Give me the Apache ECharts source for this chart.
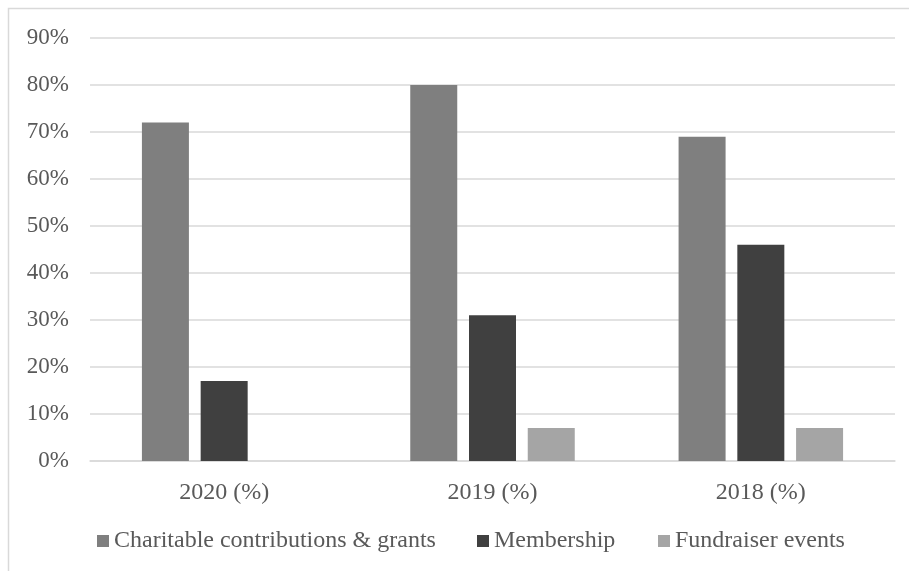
<!DOCTYPE html>
<html><head><meta charset="utf-8">
<script src="https://cdn.jsdelivr.net/npm/echarts@6/dist/echarts.min.js"></script>
<style>html,body{margin:0;padding:0;background:#fff}#c{width:909px;height:571px}</style>
</head><body><div id="c"></div>
<script>
const categories = ['2020 (%)', '2019 (%)', '2018 (%)'];
const charitable = [72, 80, 69];
const membership = [17, 31, 46];
const fundraiser = [0, 7, 7];
const seriesNames = ['Charitable contributions & grants', 'Membership', 'Fundraiser events'];
const colors = ['#7f7f7f', '#404040', '#a5a5a5'];

const font = 'Liberation Serif, Times New Roman, serif';
const chart = echarts.init(document.getElementById('c'));
const mk = (name, data, color) => ({
  name, type: 'bar', data, barWidth: 47, barGap: '25%',
  itemStyle: { color }, emphasis: { disabled: true }
});
const legendPos = [97, 477, 658];
chart.setOption({
  animation: false,
  color: colors,
  graphic: [{ type: 'rect', shape: { x: 8.5, y: 8.5, width: 1000, height: 1000 }, style: { fill: 'none', stroke: '#d9d9d9', lineWidth: 1.5 }, silent: true }],
  grid: { left: 90, right: 14, top: 38, bottom: 110 },
  legend: seriesNames.map((n, i) => ({
    left: legendPos[i], top: 529, itemWidth: 12, itemHeight: 12, padding: 0,
    icon: 'rect',
    textStyle: { fontFamily: font, fontSize: 24, color: '#595959' },
    data: [n]
  })),
  xAxis: {
    type: 'category', data: categories,
    axisLine: { lineStyle: { color: '#d9d9d9', width: 1.5 } },
    axisTick: { show: false },
    axisLabel: { fontFamily: font, fontSize: 24, color: '#595959', margin: 20 }
  },
  yAxis: {
    type: 'value', min: 0, max: 90, interval: 10,
    axisLine: { show: false }, axisTick: { show: false },
    splitLine: { lineStyle: { color: '#d9d9d9', width: 1.5 } },
    axisLabel: { fontFamily: font, fontSize: 23, color: '#595959', margin: 21, formatter: '{value}%' }
  },
  series: [mk(seriesNames[0], charitable, colors[0]), mk(seriesNames[1], membership, colors[1]), mk(seriesNames[2], fundraiser, colors[2])]
});
</script></body></html>
